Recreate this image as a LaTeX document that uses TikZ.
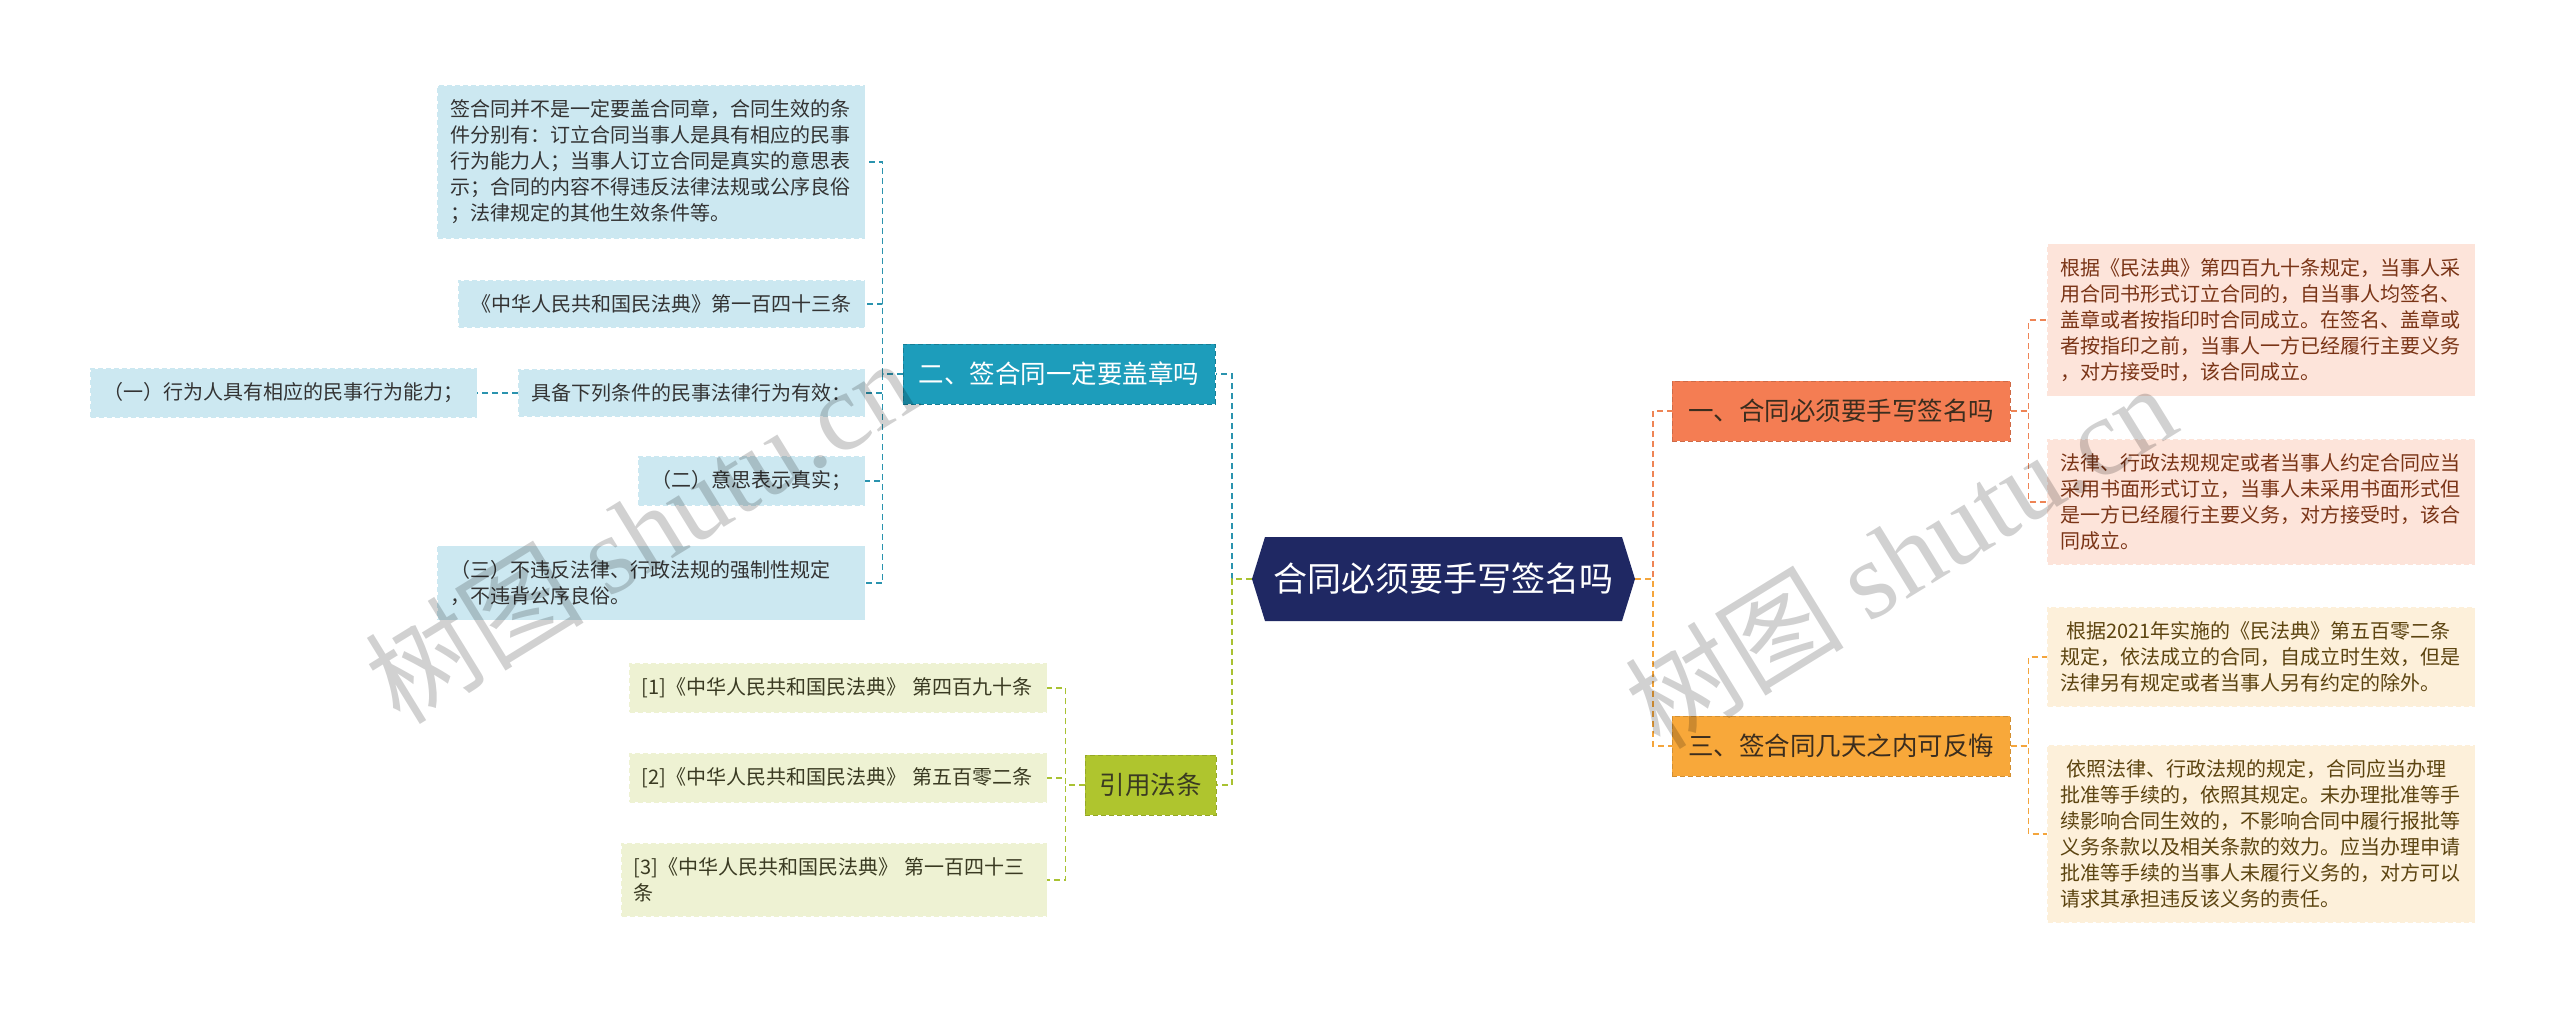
\documentclass[tikz,border=0pt]{standalone}
\usepackage{fontspec}
\setmainfont{Noto Sans CJK SC}
\newfontfamily\wmserif{Liberation Serif}
\usetikzlibrary{calc}

\definecolor{navy}{HTML}{1F2863}
\definecolor{tealb}{HTML}{1D9DBB}
\definecolor{tealln}{HTML}{2A93AE}
\definecolor{lblue}{HTML}{CCE8F1}
\definecolor{coral}{HTML}{F47D53}
\definecolor{coralln}{HTML}{EE8455}
\definecolor{orangeb}{HTML}{F8A83A}
\definecolor{orangeln}{HTML}{F4A53C}
\definecolor{greenb}{HTML}{AFC52E}
\definecolor{greenln}{HTML}{A9C232}
\definecolor{pinkl}{HTML}{FDE4DA}
\definecolor{creaml}{HTML}{FDF0DA}
\definecolor{greenl}{HTML}{EEF2D3}
\definecolor{darktxt}{HTML}{333333}
\definecolor{pinktxt}{HTML}{7A3416}
\definecolor{creamtxt}{HTML}{5C4410}
\definecolor{greentxt}{HTML}{3A3A22}
\definecolor{branchtxt}{HTML}{3B2D1E}

\tikzset{
  leafbox/.style={rectangle, inner xsep=13pt, inner ysep=14pt, align=left,
    font=\fontsize{20}{26}\selectfont, line width=1pt, dash pattern=on 5pt off 3pt},
  blueleaf/.style={leafbox, fill=lblue, draw=lblue, text=darktxt},
  pinkleaf/.style={leafbox, fill=pinkl, draw=pinkl, text=pinktxt},
  creamleaf/.style={leafbox, fill=creaml, draw=creaml, text=creamtxt},
  greenleaf/.style={leafbox, fill=greenl, draw=greenl, text=greentxt},
  branchbox/.style={rectangle, inner sep=0pt, font=\fontsize{25.5}{30}\selectfont,
    line width=1pt, dash pattern=on 5pt off 3pt, minimum height=60pt},
  bluebranch/.style={branchbox, fill=tealb, draw=tealb!80!black, text=white},
  coralbranch/.style={branchbox, fill=coral, draw=coral!85!black, text=branchtxt},
  orangebranch/.style={branchbox, fill=orangeb, draw=orangeb!85!black, text=branchtxt},
  greenbranch/.style={branchbox, fill=greenb, draw=greenb!85!black, text=greentxt},
  conn/.style={line width=1.5pt, dash pattern=on 6pt off 4pt},
  tealconn/.style={conn, draw=tealln},
  greenconn/.style={conn, draw=greenln},
  coralconn/.style={conn, draw=coralln},
  orangeconn/.style={conn, draw=orangeln},
  wmark/.style={text=black, text opacity=0.18, font=\fontsize{110}{110}\selectfont, rotate=31.6}
}

\begin{document}
\begin{tikzpicture}[x=1pt,y=-1pt]
\useasboundingbox (0,0) rectangle (2560,1012);
\fill[white] (0,0) rectangle (2560,1012);

% central hexagon
\fill[navy] (1252,579) -- (1265,537) -- (1622,537) -- (1635,579) -- (1622,621) -- (1265,621) -- cycle;
\node[minimum width=383pt, minimum height=84pt, inner sep=0pt, text=white,
  font=\fontsize{34}{40}\selectfont] (c) at (1443.5,579) {合同必须要手写签名吗};

% branches
\node[bluebranch, minimum width=312pt] (b2) at (1059,374) {二、签合同一定要盖章吗};
\node[greenbranch, minimum width=131pt] (b4) at (1150.5,785) {引用法条};
\node[coralbranch, minimum width=338pt] (b1) at (1841,411) {一、合同必须要手写签名吗};
\node[orangebranch, minimum width=338pt] (b3) at (1841,746) {三、签合同几天之内可反悔};

% left blue leaves
\node[blueleaf, anchor=east, text width=401pt] (l1) at (865,162)
  {签合同并不是一定要盖合同章，合同生效的条\\件分别有：订立合同当事人是具有相应的民事\\行为能力人；当事人订立合同是真实的意思表\\示；合同的内容不得违反法律法规或公序良俗\\；法律规定的其他生效条件等。};
\node[blueleaf, anchor=east] (l2) at (865,304) {《中华人民共和国民法典》第一百四十三条};
\node[blueleaf, anchor=east] (l3) at (865,393) {具备下列条件的民事法律行为有效：};
\node[blueleaf, anchor=east] (l3a) at (477,393) {（一）行为人具有相应的民事行为能力；};
\node[blueleaf, anchor=east] (l4) at (865,481) {（二）意思表示真实；};
\node[blueleaf, anchor=east, text width=401pt] (l5) at (865,583)
  {（三）不违反法律、行政法规的强制性规定\\，不违背公序良俗。};

% green leaves
\node[greenleaf, anchor=east, inner xsep=12pt, text width=393pt] (g1) at (1047,688) {\mbox{[1]《中华人民共和国民法典》 第四百九十条}};
\node[greenleaf, anchor=east, inner xsep=12pt, text width=393pt] (g2) at (1047,778) {\mbox{[2]《中华人民共和国民法典》 第五百零二条}};
\node[greenleaf, anchor=east, inner xsep=12pt, text width=401pt] (g3) at (1047,880) {\mbox{[3]《中华人民共和国民法典》 第一百四十三}\\条};

% right leaves
\node[pinkleaf, anchor=west, text width=401pt] (ra) at (2047,320)
  {根据《民法典》第四百九十条规定，当事人采\\用合同书形式订立合同的，自当事人均签名、\\盖章或者按指印时合同成立。在签名、盖章或\\者按指印之前，当事人一方已经履行主要义务\\，对方接受时，该合同成立。};
\node[pinkleaf, anchor=west, text width=401pt] (rb) at (2047,502)
  {法律、行政法规规定或者当事人约定合同应当\\采用书面形式订立，当事人未采用书面形式但\\是一方已经履行主要义务，对方接受时，该合\\同成立。};
\node[creamleaf, anchor=west, text width=401pt] (rc) at (2047,657)
  {\hspace*{6pt}根据2021年实施的《民法典》第五百零二条\\规定，依法成立的合同，自成立时生效，但是\\法律另有规定或者当事人另有约定的除外。};
\node[creamleaf, anchor=west, text width=401pt] (rd) at (2047,834)
  {\hspace*{6pt}依照法律、行政法规的规定，合同应当办理\\批准等手续的，依照其规定。未办理批准等手\\续影响合同生效的，不影响合同中履行报批等\\义务条款以及相关条款的效力。应当办理申请\\批准等手续的当事人未履行义务的，对方可以\\请求其承担违反该义务的责任。};

% trunk coordinates
\coordinate (tl) at ([xshift=-20pt]c.west);
\coordinate (tr) at ([xshift=18pt]c.east);
\coordinate (tb) at ([xshift=-20pt]b2.west);
\coordinate (tg) at ([xshift=-19pt]b4.west);
\coordinate (t1) at ([xshift=18pt]b1.east);
\coordinate (t3) at ([xshift=18pt]b3.east);

% connectors centre -> branches
\draw[tealconn] (c.west) -- (tl) |- (b2.east);
\draw[greenconn] (c.west) -- (tl) |- (b4.east);
\draw[coralconn] (c.east) -- (tr) |- (b1.west);
\draw[orangeconn] (c.east) -- (tr) |- (b3.west);

% branch -> leaves
\foreach \L in {l1,l2,l3,l4,l5}{\draw[tealconn] (b2.west) -- (tb) |- (\L.east);}
\draw[tealconn] (l3.west) -- (l3a.east);
\foreach \L in {g1,g2,g3}{\draw[greenconn] (b4.west) -- (tg) |- (\L.east);}
\foreach \L in {ra,rb}{\draw[coralconn] (b1.east) -- (t1) |- (\L.west);}
\foreach \L in {rc,rd}{\draw[orangeconn] (b3.east) -- (t3) |- (\L.west);}

% watermarks
\node[wmark] (wm1) at (640,530) {树图 {\wmserif shutu.cn}};
\node[wmark] (wm2) at (1900,555) {树图 {\wmserif shutu.cn}};
\end{tikzpicture}
\end{document}
